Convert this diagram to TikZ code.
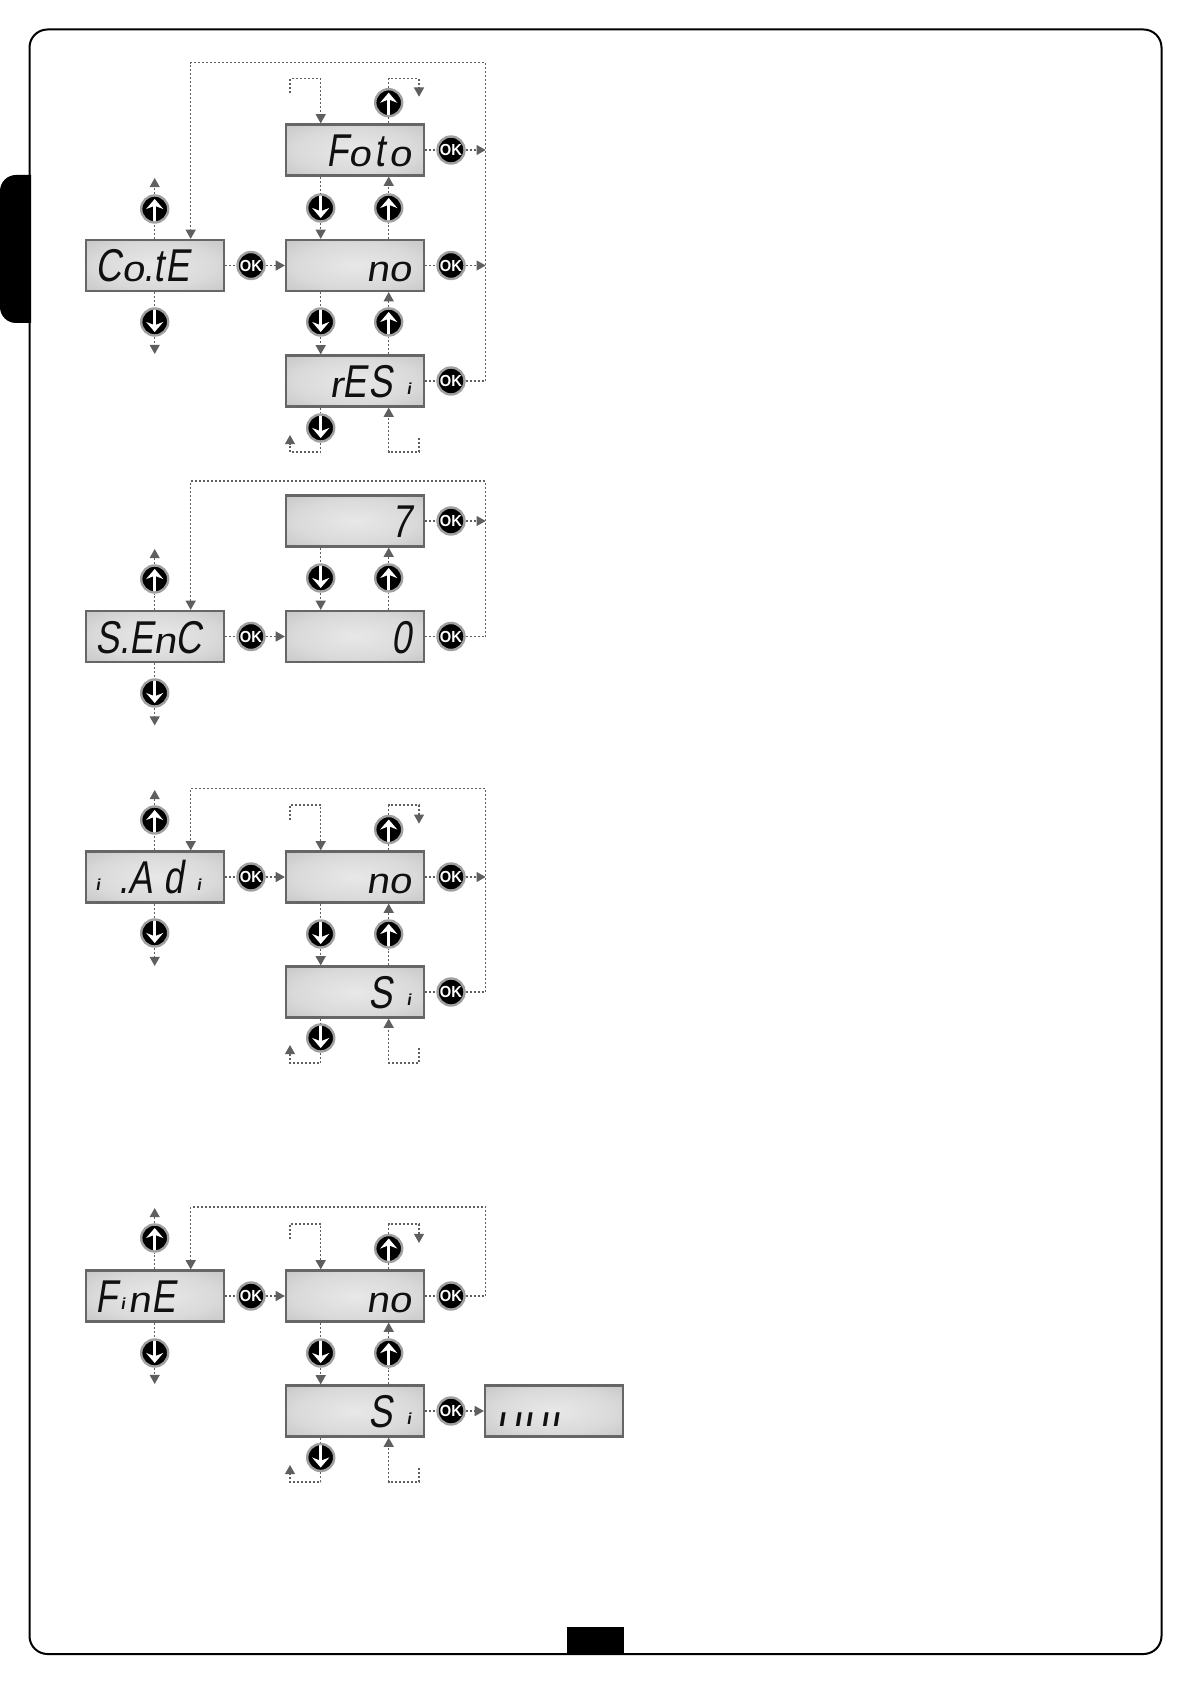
\documentclass[tikz,border=0pt]{standalone}
\usepackage{fontspec}
\usepackage{xcolor}
\usetikzlibrary{arrows.meta,positioning,calc}

\newfontfamily\lcdfont[FakeSlant=.16,FakeStretch=.78]{Liberation Sans}
\newfontfamily\lcdwide[FakeSlant=.16,FakeStretch=1.12]{Liberation Sans}
\newfontfamily\lcdbold[FakeSlant=.16]{Liberation Sans Bold}
\newfontfamily\okfont[FakeStretch=.92]{Liberation Sans Bold}
\newcommand{\lcdi}{\raisebox{1.5pt}{\lcdbold\fontsize{8}{8}\selectfont i}}
\newcommand{\lcdlow}[1]{{\lcdwide\fontsize{18}{18}\selectfont #1}}

\definecolor{lcdedge}{HTML}{666666}
\definecolor{lcdink}{HTML}{101010}
\definecolor{lcdmid}{HTML}{E8E8E8}
\definecolor{lcdrim}{HTML}{B4B4B4}
\definecolor{wirecol}{HTML}{5F5F5F}
\definecolor{ringcol}{HTML}{A0A0A0}
\pgfdeclareradialshading{lcdshade}{\pgfpoint{0bp}{0bp}}{color(0bp)=(lcdmid); color(22bp)=(lcdmid!72!lcdrim); color(50bp)=(lcdrim)}

\tikzset{
  lcdbox/.style={draw=lcdedge,line width=1.1pt,shade,shading=lcdshade,minimum height=25.5pt,inner ysep=0pt,
    text height=16.5pt,text depth=0pt,font=\lcdfont\fontsize{23}{23}\selectfont,text=lcdink},
  lcdright/.style={lcdbox,inner xsep=6.5pt,text width=56pt,align=right},
  lcdleft/.style={lcdbox,inner xsep=4.8pt,text width=59.4pt,align=left},
  btn/.style={circle,fill=black,draw=ringcol,line width=1.2pt,minimum size=13.5pt,inner sep=0pt},
  okbtn/.style={btn,text=white,font=\okfont\fontsize{8}{8}\selectfont},
  upbtn/.style={btn,path picture={\draw[white,line width=1.3pt,-{Stealth[length=5pt,width=8.5pt]}]
    ([yshift=-8pt]path picture bounding box.center) -- ([yshift=5pt]path picture bounding box.center);}},
  dnbtn/.style={btn,path picture={\draw[white,line width=1.3pt,-{Stealth[length=5pt,width=8.5pt]}]
    ([yshift=8pt]path picture bounding box.center) -- ([yshift=-5pt]path picture bounding box.center);}},
  wire/.style={draw=wirecol,line width=.7pt,dash pattern=on 1pt off 1pt},
  wirearrow/.style={wire,-{Triangle[length=4.6pt,width=5pt,fill=wirecol]}}
}

\begin{document}
\begin{tikzpicture}[x=.5pt,y=-.5pt,>=Latex]
  \useasboundingbox (0,0) rectangle (1191,1684);
  \fill[black] (31,175) [rounded corners=8pt] -- (0,175) -- (0,323) [sharp corners] -- (31,323) -- cycle;
  \fill[black] (567,1627) rectangle (624,1654);
  \draw[black,line width=1pt,rounded corners=9pt] (29.5,29.5) rectangle (1161.5,1654);

  % Co.tE
  \node[lcdleft] (cote) at (155,265.5) {C\lcdlow{o}.t\hspace{1pt}E};
  \node[lcdright] (foto) at (355,150) {F\lcdlow{o}\hspace{2pt}t\hspace{2pt}\lcdlow{o}};
  \node[lcdright] (cono) at (355,265.5) {\lcdlow{no}};
  \node[lcdright] (resi) at (355,381) {\lcdlow{r}E\hspace{1pt}S\hspace{7pt}\lcdi\hspace{1.5pt}};
  \node[upbtn] (coteup) at (154.7,209) {};
  \node[dnbtn] (cotedn) at (154.7,322) {};
  \node[okbtn] (coteok) at (251,265.5) {OK};
  \node[upbtn] (foup) at (388.7,102.7) {};
  \node[okbtn] (fook) at (451,150) {OK};
  \node[dnbtn] (fodn) at (320.7,208) {};
  \node[upbtn] (noup) at (388.7,208) {};
  \node[okbtn] (nook) at (451,265.5) {OK};
  \node[dnbtn] (nodn) at (320.7,322) {};
  \node[upbtn] (reup) at (388.7,322) {};
  \node[okbtn] (reok) at (451,381) {OK};
  \node[dnbtn] (redn) at (320.7,428) {};
  \coordinate (coteuptip) at (154.7,178);
  \coordinate (cotedntip) at (154.7,354);
  \coordinate (cotetr) at (485.7,62.7);
  \coordinate (cotetl) at (190.7,62.7);
  \coordinate (foinend) at (290,93);
  \coordinate (fotop) at (290,78.7);
  \coordinate (fotip) at (419,96.7);
  \coordinate (rebot) at (290,452);
  \coordinate (retip) at (290,435);
  \coordinate (reinend) at (419,438);

  \draw[wire] (coteup |- cote.north) -- (coteup);
  \draw[wirearrow] (coteup) -- (coteuptip);
  \draw[wire] (cotedn |- cote.south) -- (cotedn);
  \draw[wirearrow] (cotedn) -- (cotedntip);
  \draw[wire] (cote) -- (coteok);
  \draw[wirearrow] (coteok) -- (cono);
  \draw[wirearrow] (foinend) -- (fotop) -| (fodn |- foto.north);
  \draw[wire] (foup |- foto.north) -- (foup);
  \draw[wirearrow] (foup) |- (fotop -| fotip) -- (fotip);
  \draw[wire] (foto) -- (fook);
  \draw[wirearrow] (fook) -- (fook -| cotetr);
  \draw[wire] (fodn |- foto.south) -- (fodn);
  \draw[wirearrow] (fodn) -- (fodn |- cono.north);
  \draw[wire] (noup |- cono.north) -- (noup);
  \draw[wirearrow] (noup) -- (noup |- foto.south);
  \draw[wire] (cono) -- (nook);
  \draw[wirearrow] (nook) -- (nook -| cotetr);
  \draw[wire] (nodn |- cono.south) -- (nodn);
  \draw[wirearrow] (nodn) -- (nodn |- resi.north);
  \draw[wire] (reup |- resi.north) -- (reup);
  \draw[wirearrow] (reup) -- (reup |- cono.south);
  \draw[wire] (resi) -- (reok);
  \draw[wirearrow] (reok) -| (cotetr) -- (cotetl) -- (cotetl |- cote.north);
  \draw[wire] (redn |- resi.south) -- (redn);
  \draw[wirearrow] (redn) |- (rebot) -- (retip);
  \draw[wirearrow] (reinend) |- (rebot -| reup) -- (reup |- resi.south);

  % S.EnC
  \node[lcdleft] (senc) at (155,636.5) {S.E\lcdlow{n}C};
  \node[lcdright] (seven) at (355,521) {7};
  \node[lcdright] (zero) at (355,636.5) {0};
  \node[upbtn] (sencup) at (154.7,579) {};
  \node[dnbtn] (sencdn) at (154.7,693) {};
  \node[okbtn] (sencok) at (251,636.5) {OK};
  \node[okbtn] (sevenok) at (451,521) {OK};
  \node[dnbtn] (sevendn) at (320.7,578) {};
  \node[upbtn] (zeroup) at (388.7,578) {};
  \node[okbtn] (zerook) at (451,636.5) {OK};
  \coordinate (sencuptip) at (154.7,549);
  \coordinate (sencdntip) at (154.7,725.5);
  \coordinate (senctr) at (485.7,481);
  \coordinate (senctl) at (190.7,481);

  \draw[wire] (sencup |- senc.north) -- (sencup);
  \draw[wirearrow] (sencup) -- (sencuptip);
  \draw[wire] (sencdn |- senc.south) -- (sencdn);
  \draw[wirearrow] (sencdn) -- (sencdntip);
  \draw[wire] (senc) -- (sencok);
  \draw[wirearrow] (sencok) -- (zero);
  \draw[wire] (seven) -- (sevenok);
  \draw[wirearrow] (sevenok) -- (sevenok -| senctr);
  \draw[wire] (sevendn |- seven.south) -- (sevendn);
  \draw[wirearrow] (sevendn) -- (sevendn |- zero.north);
  \draw[wire] (zeroup |- zero.north) -- (zeroup);
  \draw[wirearrow] (zeroup) -- (zeroup |- seven.south);
  \draw[wire] (zero) -- (zerook);
  \draw[wirearrow] (zerook) -| (senctr) -- (senctl) -- (senctl |- senc.north);

  % i.Ad i
  \node[lcdleft] (iadi) at (155,877) {\lcdi\hspace{9.3pt}.A\hspace{5.5pt}d\hspace{6.5pt}\lcdi};
  \node[lcdright] (iano) at (355,877) {\lcdlow{no}};
  \node[lcdright] (iasi) at (355,992) {S\hspace{7pt}\lcdi\hspace{1.5pt}};
  \node[upbtn] (iadiup) at (154.7,820) {};
  \node[dnbtn] (iadidn) at (154.7,933) {};
  \node[okbtn] (iadiok) at (251,877) {OK};
  \node[upbtn] (iaup) at (388.7,829.5) {};
  \node[okbtn] (ianook) at (451,877) {OK};
  \node[dnbtn] (ianodn) at (320.7,934) {};
  \node[upbtn] (iasiup) at (388.7,934) {};
  \node[okbtn] (iasiok) at (451,992) {OK};
  \node[dnbtn] (iasidn) at (320.7,1038) {};
  \coordinate (iadiuptip) at (154.7,790);
  \coordinate (iadidntip) at (154.7,966);
  \coordinate (iadicorner) at (485.7,788.5);
  \coordinate (iadicornerl) at (190.7,788.5);
  \coordinate (iainend) at (290,820);
  \coordinate (iatop) at (290,805);
  \coordinate (iatip) at (419,823.7);
  \coordinate (iabot) at (290,1063);
  \coordinate (iabottip) at (290,1045);
  \coordinate (iainlow) at (419,1048);

  \draw[wire] (iadiup |- iadi.north) -- (iadiup);
  \draw[wirearrow] (iadiup) -- (iadiuptip);
  \draw[wire] (iadidn |- iadi.south) -- (iadidn);
  \draw[wirearrow] (iadidn) -- (iadidntip);
  \draw[wire] (iadi) -- (iadiok);
  \draw[wirearrow] (iadiok) -- (iano);
  \draw[wirearrow] (iainend) -- (iatop) -| (ianodn |- iano.north);
  \draw[wire] (iaup |- iano.north) -- (iaup);
  \draw[wirearrow] (iaup) |- (iatop -| iatip) -- (iatip);
  \draw[wire] (iano) -- (ianook);
  \draw[wirearrow] (ianook) -- (ianook -| iadicorner);
  \draw[wire] (ianodn |- iano.south) -- (ianodn);
  \draw[wirearrow] (ianodn) -- (ianodn |- iasi.north);
  \draw[wire] (iasiup |- iasi.north) -- (iasiup);
  \draw[wirearrow] (iasiup) -- (iasiup |- iano.south);
  \draw[wire] (iasi) -- (iasiok);
  \draw[wirearrow] (iasiok) -| (iadicorner) -- (iadicornerl) -- (iadicornerl |- iadi.north);
  \draw[wire] (iasidn |- iasi.south) -- (iasidn);
  \draw[wirearrow] (iasidn) |- (iabot) -- (iabottip);
  \draw[wirearrow] (iainlow) |- (iabot -| iasiup) -- (iasiup |- iasi.south);

  % FinE
  \node[lcdleft] (fine) at (155,1296) {F\hspace{1.5pt}\lcdi\hspace{1.5pt}\lcdlow{n}\hspace{.5pt}E};
  \node[lcdright] (fino) at (355,1296) {\lcdlow{no}};
  \node[lcdright] (fisi) at (355,1411) {S\hspace{7pt}\lcdi\hspace{1.5pt}};
  \node[lcdright,align=left,font=\lcdbold\fontsize{13}{13}\selectfont,text height=15pt] (fibar) at (554,1411)
    {ı\hspace{4.4pt}ı\hspace{1.9pt}ı\hspace{4.4pt}ı\hspace{1.9pt}ı};
  \node[upbtn] (fineup) at (154.7,1238) {};
  \node[dnbtn] (finedn) at (154.7,1353) {};
  \node[okbtn] (fineok) at (251,1296) {OK};
  \node[upbtn] (fiup) at (388.7,1248.5) {};
  \node[okbtn] (finook) at (451,1296) {OK};
  \node[dnbtn] (finodn) at (320.7,1353) {};
  \node[upbtn] (fisiup) at (388.7,1353) {};
  \node[okbtn] (fisiok) at (451,1411) {OK};
  \node[dnbtn] (fisidn) at (320.7,1457.5) {};
  \coordinate (fineuptip) at (154.7,1208);
  \coordinate (finedntip) at (154.7,1384);
  \coordinate (finecorner) at (485.7,1207);
  \coordinate (finecornerl) at (190.7,1207);
  \coordinate (fiinend) at (290,1239);
  \coordinate (fitop) at (290,1224);
  \coordinate (fitip) at (419,1243);
  \coordinate (fibot) at (290,1482);
  \coordinate (fibottip) at (290,1465);
  \coordinate (fiinlow) at (419,1468);

  \draw[wire] (fineup |- fine.north) -- (fineup);
  \draw[wirearrow] (fineup) -- (fineuptip);
  \draw[wire] (finedn |- fine.south) -- (finedn);
  \draw[wirearrow] (finedn) -- (finedntip);
  \draw[wire] (fine) -- (fineok);
  \draw[wirearrow] (fineok) -- (fino);
  \draw[wirearrow] (fiinend) -- (fitop) -| (finodn |- fino.north);
  \draw[wire] (fiup |- fino.north) -- (fiup);
  \draw[wirearrow] (fiup) |- (fitop -| fitip) -- (fitip);
  \draw[wire] (fino) -- (finook);
  \draw[wirearrow] (finook) -| (finecorner) -- (finecornerl) -- (finecornerl |- fine.north);
  \draw[wire] (finodn |- fino.south) -- (finodn);
  \draw[wirearrow] (finodn) -- (finodn |- fisi.north);
  \draw[wire] (fisiup |- fisi.north) -- (fisiup);
  \draw[wirearrow] (fisiup) -- (fisiup |- fino.south);
  \draw[wire] (fisi) -- (fisiok);
  \draw[wirearrow] (fisiok) -- (fibar);
  \draw[wire] (fisidn |- fisi.south) -- (fisidn);
  \draw[wirearrow] (fisidn) |- (fibot) -- (fibottip);
  \draw[wirearrow] (fiinlow) |- (fibot -| fisiup) -- (fisiup |- fisi.south);
\end{tikzpicture}
\end{document}
